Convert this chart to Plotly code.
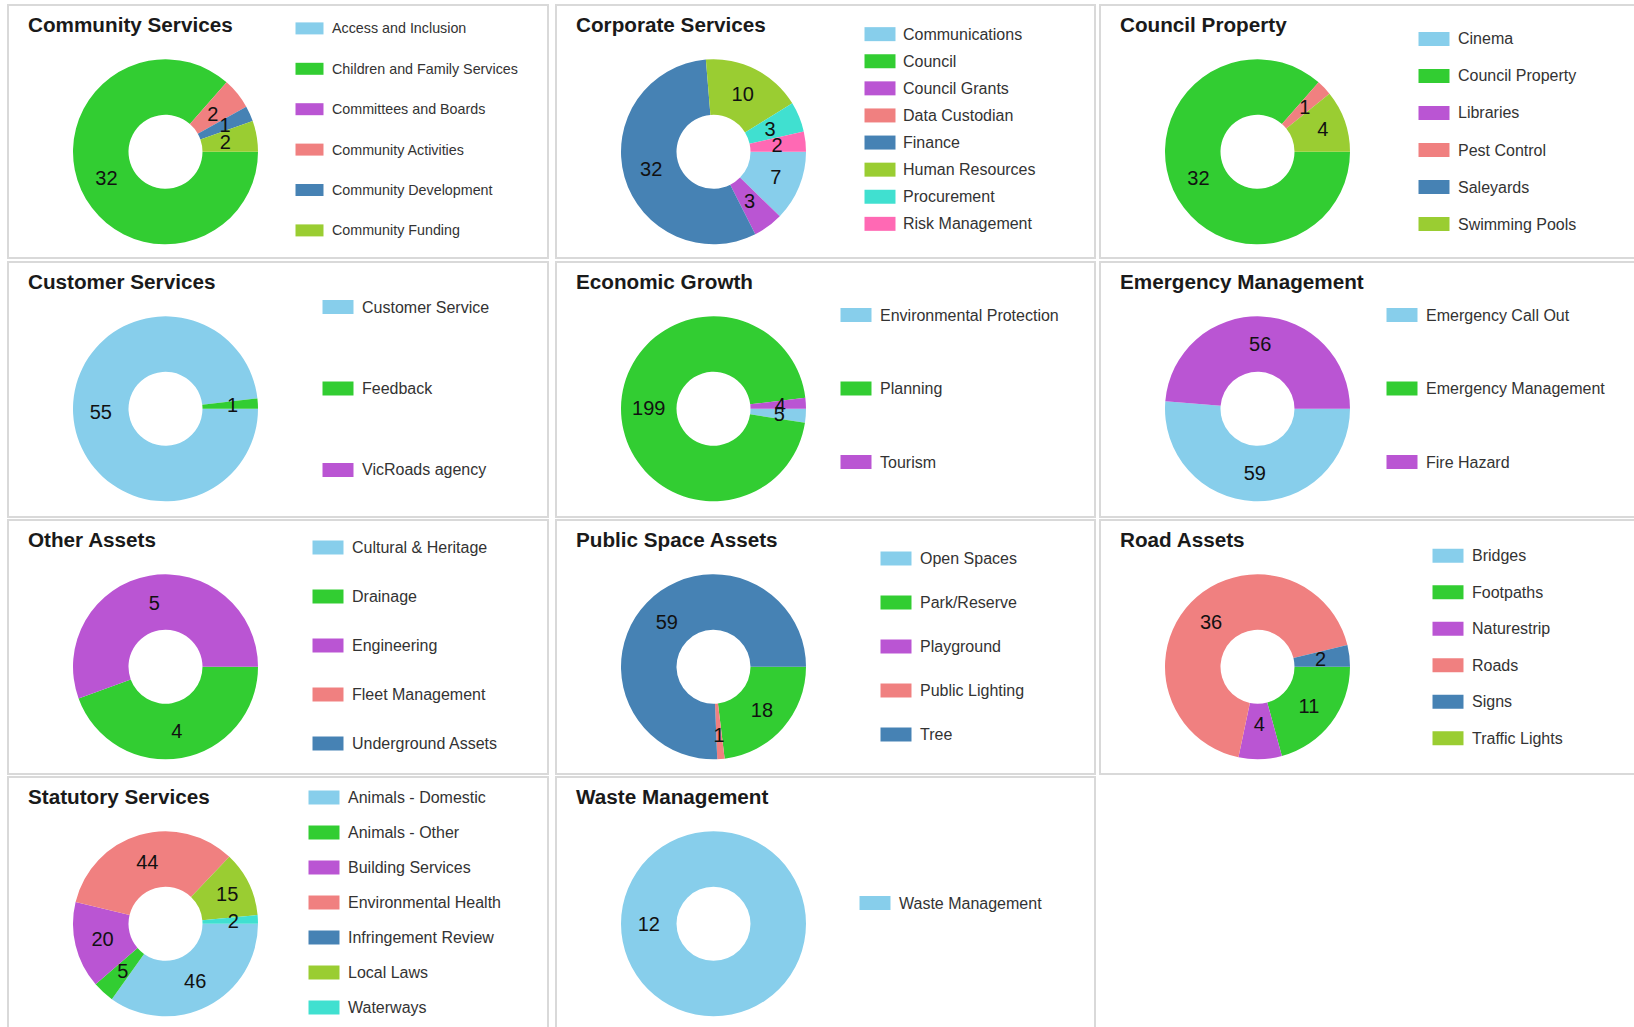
import math
import plotly.graph_objects as go

W, H = 1634, 1027

PALETTE = ["#87CEEB", "#32CD32", "#BA55D3", "#F08080", "#4682B4",
           "#9ACD32", "#40E0D0", "#FF69B4"]

# ---- data ----
community_labels = ["Access and Inclusion", "Children and Family Services", "Committees and Boards",
                    "Community Activities", "Community Development", "Community Funding"]
community_values = [0, 32, 0, 2, 1, 2]

corporate_labels = ["Communications", "Council", "Council Grants", "Data Custodian", "Finance",
                    "Human Resources", "Procurement", "Risk Management"]
corporate_values = [7, 0, 3, 0, 32, 10, 3, 2]

property_labels = ["Cinema", "Council Property", "Libraries", "Pest Control", "Saleyards", "Swimming Pools"]
property_values = [0, 32, 0, 1, 0, 4]

customer_labels = ["Customer Service", "Feedback", "VicRoads agency"]
customer_values = [55, 1, 0]

economic_labels = ["Environmental Protection", "Planning", "Tourism"]
economic_values = [5, 199, 4]

emergency_labels = ["Emergency Call Out", "Emergency Management", "Fire Hazard"]
emergency_values = [59, 0, 56]

other_labels = ["Cultural & Heritage", "Drainage", "Engineering", "Fleet Management", "Underground Assets"]
other_values = [0, 4, 5, 0, 0]

public_labels = ["Open Spaces", "Park/Reserve", "Playground", "Public Lighting", "Tree"]
public_values = [0, 18, 0, 1, 59]

road_labels = ["Bridges", "Footpaths", "Naturestrip", "Roads", "Signs", "Traffic Lights"]
road_values = [0, 11, 4, 36, 2, 0]

statutory_labels = ["Animals - Domestic", "Animals - Other", "Building Services", "Environmental Health",
                    "Infringement Review", "Local Laws", "Waterways"]
statutory_values = [46, 5, 20, 44, 0, 15, 2]

waste_labels = ["Waste Management"]
waste_values = [12]

panels = [
    ("Community Services", community_labels, community_values),
    ("Corporate Services", corporate_labels, corporate_values),
    ("Council Property", property_labels, property_values),
    ("Customer Services", customer_labels, customer_values),
    ("Economic Growth", economic_labels, economic_values),
    ("Emergency Management", emergency_labels, emergency_values),
    ("Other Assets", other_labels, other_values),
    ("Public Space Assets", public_labels, public_values),
    ("Road Assets", road_labels, road_values),
    ("Statutory Services", statutory_labels, statutory_values),
    ("Waste Management", waste_labels, waste_values),
]

# ---- panel layout (pixels) ----
COL_LEFT = [8, 556, 1100]
COL_RIGHT = [548, 1095, 1642]
ROW_TOP = [5, 262, 520, 777]
ROW_BOTTOM = [258, 517, 774, 1040]
R = 92.5        # donut outer radius
R_SMALL = 71    # radius of the label-only pie used for thin slices
HOLE = 0.40

legend_dx = [287.5, 308.5, 318.5, 314.5, 284.5, 286.5, 304.5, 324.5, 332.5, 300.5, 303.5]
legend_mid = [124.4, 124, 126.5, 126.5, 126.5, 126.5, 125.5, 126.5, 127, 125.5, 126]
legend_step = [40.4, 27.1, 37, 81.5, 73.5, 73.5, 49, 44, 36.5, 35, 0]
legend_font = [14.3, 16, 16, 16, 16, 16, 16, 16, 16, 16, 16]
swatch_size = [(28, 12)] + [(31, 14)] * 10

FONT = "Liberation Sans, Arial, sans-serif"
LABEL_FONT = dict(family=FONT, size=20, color="#111111")


def px(x):
    return x / W


def py(y):
    return 1 - y / H


def domain(cx, cy, r):
    return dict(x=[px(cx - r), px(cx + r)], y=[py(cy + r), py(cy - r)])


def split_labels(values):
    # plotly puts inside text of thin slices near the rim; those labels go on a
    # smaller transparent pie so they sit in the middle of the ring instead
    total = float(sum(values))
    mid = R * (1 + HOLE) / 2
    main, small = [], []
    for v in values:
        if not v:
            main.append("")
            small.append("")
            continue
        s = math.sin(math.pi * min(v / total, 0.5))
        frac = s / (1 + s)
        pos_main = R * (1 - min(frac, (1 - HOLE) / 2))
        pos_small = R_SMALL * (1 - frac)
        if abs(pos_main - mid) <= abs(pos_small - mid):
            main.append(str(v))
            small.append("")
        else:
            main.append("")
            small.append(str(v))
    return main, small


fig = go.Figure()
shapes = []
annotations = []

for i, (title, labels, values) in enumerate(panels):
    row, col = divmod(i, 3)
    left, top = COL_LEFT[col], ROW_TOP[row]

    shapes.append(dict(type="rect", xref="paper", yref="paper",
                       x0=px(left), x1=px(COL_RIGHT[col]), y0=py(ROW_BOTTOM[row]), y1=py(top),
                       line=dict(color="#d9d9d9", width=2), fillcolor="rgba(0,0,0,0)", layer="below"))

    annotations.append(dict(text="<b>%s</b>" % title, xref="paper", yref="paper",
                            x=px(left + 17.5), y=py(top + 19.5), xanchor="left", yanchor="middle",
                            showarrow=False, font=dict(family=FONT, size=20.7, color="#1a1a1a")))

    cx, cy = left + 157.5, top + 146.8
    main_text, small_text = split_labels(values)
    fig.add_trace(go.Pie(
        labels=labels, values=values, text=main_text,
        textinfo="text", textposition="inside", insidetextorientation="horizontal",
        textfont=LABEL_FONT,
        marker=dict(colors=PALETTE[:len(labels)], line=dict(width=0)),
        hole=HOLE, sort=False, direction="clockwise", rotation=90,
        domain=domain(cx, cy, R),
        showlegend=False, hoverinfo="label+value", name=title,
    ))
    if any(small_text):
        fig.add_trace(go.Pie(
            labels=labels, values=values, text=small_text,
            textinfo="text", textposition="inside", insidetextorientation="horizontal",
            textfont=LABEL_FONT,
            marker=dict(colors=["rgba(0,0,0,0)"] * len(labels), line=dict(width=0)),
            sort=False, direction="clockwise", rotation=90,
            domain=domain(cx, cy, R_SMALL),
            showlegend=False, hoverinfo="skip",
        ))

    # legend
    n = len(labels)
    sw, sh = swatch_size[i]
    for k, lab in enumerate(labels):
        yc = top + legend_mid[i] + (k - (n - 1) / 2) * legend_step[i]
        x0 = left + legend_dx[i]
        shapes.append(dict(type="rect", xref="paper", yref="paper",
                           x0=px(x0), x1=px(x0 + sw), y0=py(yc + sh / 2), y1=py(yc - sh / 2),
                           line=dict(width=0), fillcolor=PALETTE[k]))
        annotations.append(dict(text=lab, xref="paper", yref="paper",
                                x=px(x0 + sw + 6), y=py(yc), xanchor="left", yanchor="middle",
                                showarrow=False, font=dict(family=FONT, size=legend_font[i], color="#333333")))

fig.update_layout(
    width=W, height=H,
    margin=dict(l=0, r=0, t=0, b=0),
    paper_bgcolor="white", plot_bgcolor="white",
    shapes=shapes, annotations=annotations,
    uniformtext=dict(minsize=20, mode="show"),
)

fig.write_html("out.html", config={"displayModeBar": False},
               post_script="document.body.style.margin='0';document.body.style.overflow='hidden';")
